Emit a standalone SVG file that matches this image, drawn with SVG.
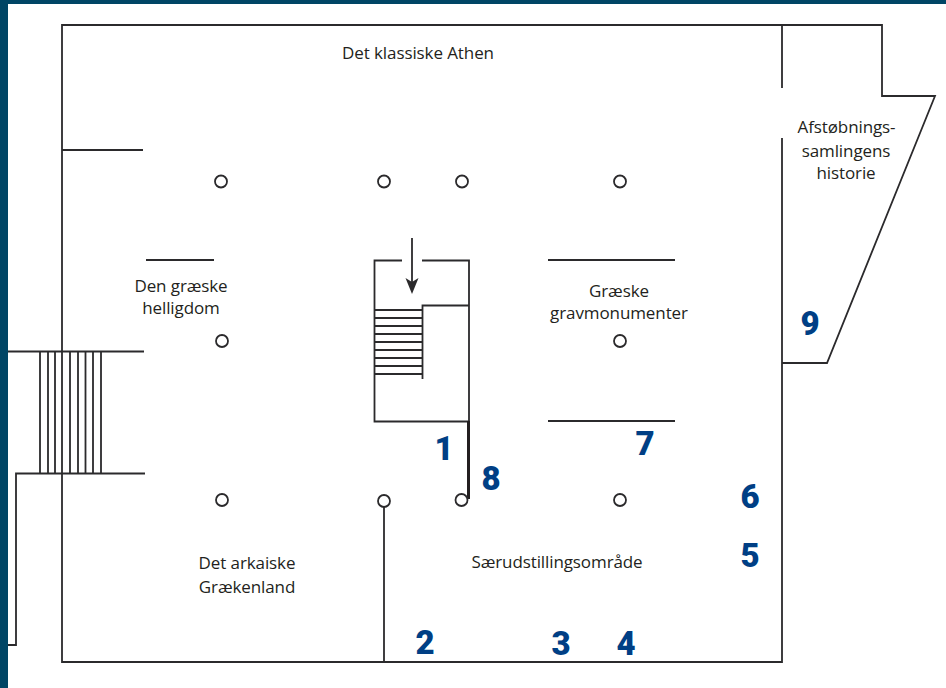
<svg xmlns="http://www.w3.org/2000/svg" width="946" height="688" viewBox="0 0 946 688">
<style>
.w{fill:none;stroke:#2b2a2c;stroke-width:1.8}
.c{fill:#fff;stroke:#2b2a2c;stroke-width:1.8}
.t{font-family:"Open Sans","Noto Sans",sans-serif;font-size:17px;fill:#231f20;text-anchor:middle;letter-spacing:-.1px}
.n{font-family:"Roboto","Liberation Sans",sans-serif;font-size:33px;font-weight:900;fill:#003f85;text-anchor:middle}
</style>
<rect width="946" height="688" fill="#fff"/>
<rect width="946" height="4" fill="#004565"/>
<rect width="8" height="688" fill="#004565"/>
<g id="walls">
<path class="w" d="M782 88V25H62V662H782V138"/>
<path class="w" d="M782 25H882V96H935L827 363H782"/>
<path class="w" d="M62 150H143M146 260H214M548 260H675M548 421H675"/>
<path class="w" d="M8 351.500H144M145 473.500H16V645H8"/>
<path class="w" d="M40 351.500V473.500M48 351.500V473.500M55 351.500V473.500M70 351.500V473.500M78 351.500V473.500M85.500 351.500V473.500M93 351.500V473.500M101 351.500V473.500"/>
<path class="w" d="M384 507V662"/>
</g>
<g id="stairs">
<path class="w" d="M402 260.500H374.500V421.500H469V260.500H422M469 305.500H422.500V379"/>
<path class="w" d="M374.500 310H422M374.500 318H422M374.500 326H422M374.500 334H422M374.500 342H422M374.500 350H422M374.500 358H422M374.500 366H422M374.500 374H422"/>
<path class="w" d="M412 238V282"/>
<path d="M405.500 278L412 282L418.500 278L412 294Z" fill="#2b2a2c"/>
<path d="M468.500 421V499" fill="none" stroke="#231f20" stroke-width="3"/>
</g>
<g id="columns">
<circle class="c" cx="221" cy="181.500" r="6"/>
<circle class="c" cx="384" cy="181.500" r="6"/>
<circle class="c" cx="462" cy="181.500" r="6"/>
<circle class="c" cx="620" cy="181.500" r="6"/>
<circle class="c" cx="222" cy="341" r="6"/>
<circle class="c" cx="620" cy="341" r="6"/>
<circle class="c" cx="222" cy="500" r="6"/>
<circle class="c" cx="384" cy="501" r="6"/>
<circle class="c" cx="461.500" cy="500" r="6"/>
<circle class="c" cx="620" cy="500" r="6"/>
</g>
<g id="labels">
<text class="t" x="418" y="59">Det klassiske Athen</text>
<text class="t" x="846.500" y="133">Afstøbnings-</text>
<text class="t" x="846" y="157">samlingens</text>
<text class="t" x="846" y="179">historie</text>
<text class="t" x="181" y="292">Den græske</text>
<text class="t" x="181" y="314">helligdom</text>
<text class="t" x="619" y="297">Græske</text>
<text class="t" x="619" y="319">gravmonumenter</text>
<text class="t" x="247" y="569">Det arkaiske</text>
<text class="t" x="247" y="593">Grækenland</text>
<text class="t" x="557" y="568">Særudstillingsområde</text>
</g>
<g id="numbers">
<text class="n" x="444" y="460">1</text>
<text class="n" x="425" y="654">2</text>
<text class="n" x="561" y="655">3</text>
<text class="n" x="626" y="655">4</text>
<text class="n" x="750" y="567">5</text>
<text class="n" x="750" y="508">6</text>
<text class="n" x="645" y="455">7</text>
<text class="n" x="491" y="490">8</text>
<text class="n" x="810" y="335">9</text>
</g>
</svg>
